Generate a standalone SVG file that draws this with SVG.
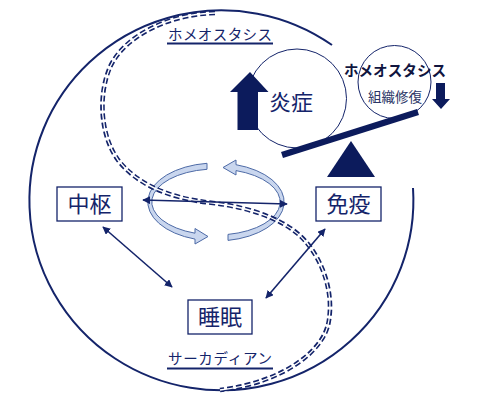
<svg xmlns="http://www.w3.org/2000/svg" width="478" height="414" viewBox="0 0 478 414">
<style>
.nav{fill:#0c1b5c}
.box{fill:#fff;stroke:#14246a;stroke-width:1.3}
.lbl{font-family:"Noto Sans CJK JP","Noto Sans CJK SC",sans-serif;fill:#14246a}
.conn{stroke:#14246a;stroke-width:1.6;fill:none;marker-start:url(#ah);marker-end:url(#ah)}
.ring{fill:#c9d6ee;stroke:#4d6aa6;stroke-width:1}
</style>
<defs>
<marker id="ah" viewBox="0 0 10 10" refX="9" refY="5" markerWidth="8" markerHeight="8" orient="auto-start-reverse" markerUnits="userSpaceOnUse">
<path d="M0,0 L10,5 L0,10 Z" fill="#14246a"/>
</marker>
</defs>
<rect width="478" height="414" fill="#fff"/>

<g id="cycle-ring">
<path class="ring" d="M207,163.3 A68 39 0 0 0 195,239.1 L195,244 L208,236.5 L195,228.5 L195,233.2 A64 33 0 0 1 207,169.3 Z"/>
<path class="ring" d="M228,240.4 A68 39 0 0 0 236,164.7 L236,160 L223,167.5 L236,175 L236,170.6 A64 33 0 0 1 228,234.4 Z"/>
</g>

<g id="outer-circle">
<path d="M413,188 A192 190 0 1 1 332,45" fill="none" stroke="#14246a" stroke-width="2"/>
</g>

<g id="circadian-curve">
<path d="M215,13 C170,14 125,35 110,67 C98,95 100,135 118,160 C135,182 165,198 213,203 C255,208 290,222 307,243 C325,265 333,295 329,320 C325,350 285,382 220,390" fill="none" stroke="#14246a" stroke-width="4.6" stroke-dasharray="6 3"/>
<path d="M215,13 C170,14 125,35 110,67 C98,95 100,135 118,160 C135,182 165,198 213,203 C255,208 290,222 307,243 C325,265 333,295 329,320 C325,350 285,382 220,390" fill="none" stroke="#fff" stroke-width="1.3"/>
</g>

<g id="connectors">
<line class="conn" x1="143" y1="200" x2="287" y2="204"/>
<line class="conn" x1="103" y1="227" x2="172" y2="287"/>
<line class="conn" x1="325" y1="229" x2="266" y2="298"/>
</g>

<g id="label-homeostasis">
<text class="lbl" x="168" y="40" font-size="14.5" textLength="104" lengthAdjust="spacing">ホメオスタシス</text>
<line x1="167" y1="43.5" x2="273" y2="43.5" stroke="#14246a" stroke-width="2"/>
</g>

<g id="label-circadian">
<text class="lbl" x="168" y="364" font-size="14.5" textLength="104" lengthAdjust="spacing">サーカディアン</text>
<line x1="167" y1="368.5" x2="273" y2="368.5" stroke="#14246a" stroke-width="2"/>
</g>

<g id="node-inflammation">
<circle cx="297" cy="98.5" r="49.5" fill="none" stroke="#14246a" stroke-width="1"/>
<path class="nav" d="M250,72 L268.5,92 L258,92 L258,130 L237.5,130 L237.5,92 L230,92 Z"/>
<text class="lbl" x="291" y="110" font-size="22" text-anchor="middle">炎症</text>
</g>

<g id="node-repair">
<circle cx="394.5" cy="82" r="36.5" fill="none" stroke="#14246a" stroke-width="1"/>
<text x="395" y="76" font-size="14.6" font-weight="bold" text-anchor="middle" fill="#10153f" font-family="Noto Sans CJK JP,sans-serif">ホメオスタシス</text>
<text x="395" y="102" font-size="13.5" text-anchor="middle" fill="#2a3566" font-family="Noto Sans CJK JP,sans-serif">組織修復</text>
<path class="nav" d="M436,83 L445,83 L445,99 L450,99 L441,109 L432,99 L436,99 Z"/>
</g>

<g id="balance">
<line x1="282" y1="155" x2="418" y2="112" stroke="#0c1b5c" stroke-width="6.5"/>
<path class="nav" d="M351,141 L375,177 L327,177 Z"/>
</g>

<g id="node-central">
<rect class="box" x="57" y="187" width="65" height="34"/>
<text class="lbl" x="89.5" y="211.5" font-size="22" text-anchor="middle">中枢</text>
</g>

<g id="node-immune">
<rect class="box" x="316" y="187" width="65" height="34"/>
<text class="lbl" x="348.5" y="211.5" font-size="22" text-anchor="middle">免疫</text>
</g>

<g id="node-sleep">
<rect class="box" x="188" y="300" width="64" height="34"/>
<text class="lbl" x="220" y="324.5" font-size="22" text-anchor="middle">睡眠</text>
</g>
</svg>
